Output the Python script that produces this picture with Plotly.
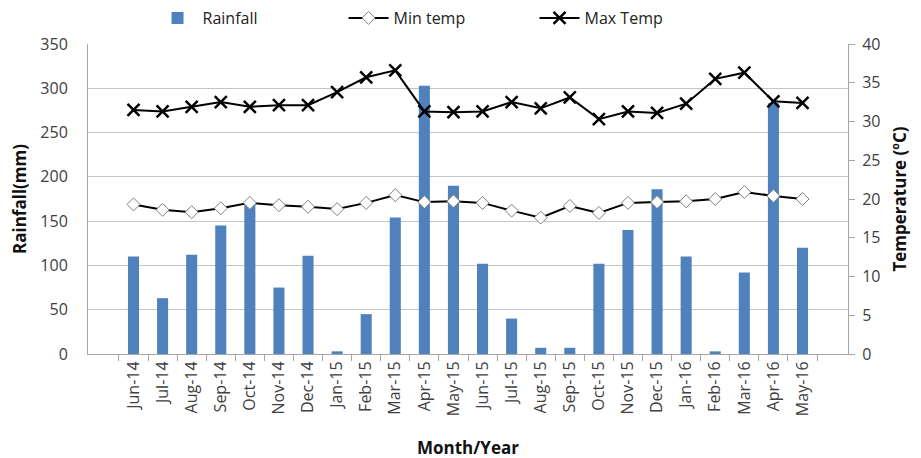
import plotly.graph_objects as go

months = ["Jun-14", "Jul-14", "Aug-14", "Sep-14", "Oct-14", "Nov-14", "Dec-14", "Jan-15",
          "Feb-15", "Mar-15", "Apr-15", "May-15", "Jun-15", "Jul-15", "Aug-15", "Sep-15",
          "Oct-15", "Nov-15", "Dec-15", "Jan-16", "Feb-16", "Mar-16", "Apr-16", "May-16"]
rainfall = [110, 63, 112, 145, 170, 75, 111, 3, 45, 154, 303, 190,
            102, 40, 7, 7, 102, 140, 186, 110, 3, 92, 283, 120]
min_temp = [19.3, 18.6, 18.3, 18.8, 19.5, 19.2, 19.0, 18.7, 19.5, 20.5, 19.6, 19.7,
            19.5, 18.5, 17.6, 19.1, 18.2, 19.5, 19.6, 19.7, 20.0, 20.9, 20.4, 20.0]
max_temp = [31.5, 31.3, 31.9, 32.5, 31.9, 32.1, 32.1, 33.8, 35.7, 36.6, 31.3, 31.2,
            31.3, 32.5, 31.7, 33.1, 30.3, 31.3, 31.1, 32.3, 35.5, 36.3, 32.6, 32.4]

FONT = "Open Sans"
TICK_C = "#404040"
AXIS_C = "#a6a6a6"

fig = go.Figure()
fig.add_trace(go.Bar(x=months, y=rainfall, name="Rainfall", marker_color="#4F81BD",
                     marker_line_width=0))
fig.add_trace(go.Scatter(x=months, y=min_temp, name="Min temp", yaxis="y2",
                         mode="lines+markers",
                         line=dict(color="black", width=2),
                         marker=dict(symbol="diamond", size=10, color="white",
                                     line=dict(color="#7f7f7f", width=1))))
fig.add_trace(go.Scatter(x=months, y=max_temp, name="Max Temp", yaxis="y2",
                         mode="lines+markers",
                         line=dict(color="black", width=2),
                         marker=dict(symbol="x-thin", size=12, color="black",
                                     line=dict(color="black", width=2.5))))

fig.update_layout(
    width=921, height=458,
    margin=dict(l=80, r=81, t=36, b=112),
    paper_bgcolor="white", plot_bgcolor="white",
    font=dict(family=FONT, size=15, color=TICK_C),
    bargap=0.62,
    showlegend=True,
    legend=dict(orientation="h", x=0.468, xanchor="center", xref="container",
                y=1 - 10 / 458, yanchor="middle", yref="container",
                font=dict(size=16, color="#222"), itemwidth=40,
                entrywidth=136, traceorder="normal"),
    xaxis=dict(type="category", tickangle=-90, tickson="boundaries",
               ticks="outside", ticklen=6, tickcolor=AXIS_C,
               showline=True, linecolor=AXIS_C, linewidth=1,
               showgrid=False, automargin=False,
               tickfont=dict(size=16, color=TICK_C),
               title=dict(text="<b>Month/Year</b>", font=dict(size=17, color="#111"),
                          standoff=26)),
    yaxis=dict(range=[0, 350], dtick=50, showgrid=True, gridcolor="#c4c4c4",
               showline=True, linecolor=AXIS_C, ticks="", zeroline=False,
               automargin=False, ticklabelstandoff=16,
               tickfont=dict(size=16, color=TICK_C),
               title=dict(text="<b>Rainfall(mm)</b>", font=dict(size=17, color="#111"),
                          standoff=12)),
    yaxis2=dict(range=[0, 40], dtick=5, overlaying="y", side="right",
                showgrid=False, showline=True, linecolor=AXIS_C,
                ticks="outside", ticklen=6, tickcolor=AXIS_C, zeroline=False,
                automargin=False, ticklabelstandoff=4,
                tickfont=dict(size=16, color=TICK_C),
                title=dict(text="<b>Temperature (ºC)</b>", font=dict(size=17, color="#111"),
                           standoff=14)),
)

fig.write_html("out.html")
